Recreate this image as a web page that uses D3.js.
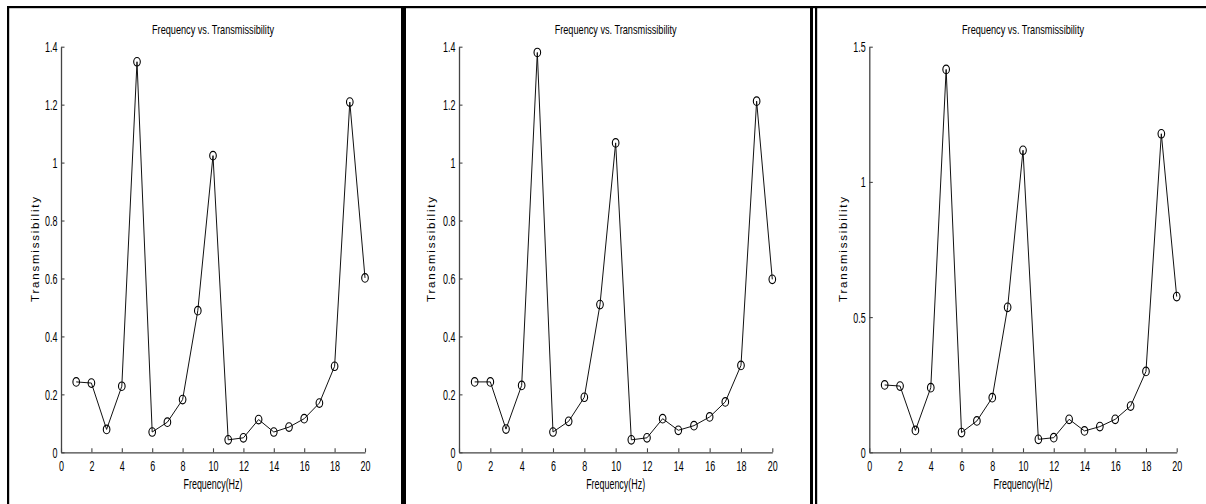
<!DOCTYPE html>
<html>
<head>
<meta charset="utf-8">
<script src="https://cdn.jsdelivr.net/npm/d3@7"></script>
<style>
  html, body { margin: 0; padding: 0; background: #fff; }
  svg { display: block; }
</style>
</head>
<body>
<svg id="chart" width="1206" height="504"></svg>
<script>
// ---- Data ----
const freq = [1,2,3,4,5,6,7,8,9,10,11,12,13,14,15,16,17,18,19,20];
const trans1 = [0.243,0.239,0.079,0.228,1.348,0.070,0.104,0.182,0.489,1.024,0.043,0.050,0.113,0.070,0.087,0.116,0.170,0.297,1.209,0.602];
const trans2 = [0.243,0.243,0.080,0.231,1.380,0.070,0.107,0.190,0.510,1.068,0.043,0.050,0.116,0.076,0.092,0.122,0.174,0.300,1.212,0.597];
const trans3 = [0.249,0.245,0.081,0.239,1.416,0.073,0.116,0.202,0.536,1.117,0.048,0.054,0.122,0.079,0.095,0.122,0.171,0.299,1.178,0.576];
const xTicks = [0,2,4,6,8,10,12,14,16,18,20];
const yTicksA = [0,0.2,0.4,0.6,0.8,1,1.2,1.4];
const yTicksB = [0,0.5,1,1.5];
const titleText = "Frequency vs. Transmissibility";
const xLabelText = "Frequency(Hz)";
const yLabelText = "Transmissibility";

// ---- Layout ----
const panels = [
  { values: trans1, yMax: 1.4, yTicks: yTicksA, left: 61,    right: 365,   ylabX: 38.5 },
  { values: trans2, yMax: 1.4, yTicks: yTicksA, left: 459,   right: 772.3, ylabX: 435 },
  { values: trans3, yMax: 1.5, yTicks: yTicksB, left: 869.3, right: 1176.7, ylabX: 847 }
];
const yBottom = 452.3, yTop = 46.7;
const condensedFont = "'Liberation Sans', Arial, Helvetica, sans-serif";

const svg = d3.select("#chart");

function condense(sel, k) {
  sel.each(function() {
    const len = this.getComputedTextLength();
    d3.select(this).attr("textLength", len * k).attr("lengthAdjust", "spacingAndGlyphs");
  });
}

// ---- Frame lines ----
const frame = svg.append("g").attr("fill", "#000");
frame.append("rect").attr("x", 7).attr("y", 6).attr("width", 1199).attr("height", 2.2);
frame.append("rect").attr("x", 7).attr("y", 6).attr("width", 2.2).attr("height", 498);
frame.append("rect").attr("x", 401).attr("y", 6).attr("width", 5).attr("height", 498);
frame.append("rect").attr("x", 810).attr("y", 6).attr("width", 3).attr("height", 498);
frame.append("rect").attr("x", 815).attr("y", 6).attr("width", 2.2).attr("height", 498);

panels.forEach(p => {
  const g = svg.append("g");
  const x = d3.scaleLinear().domain([0, 20]).range([p.left, p.right]);
  const y = d3.scaleLinear().domain([0, p.yMax]).range([yBottom, yTop]);
  const cx = (p.left + p.right) / 2;

  // X axis (ticks inward / upward)
  const xAxis = g.append("g")
    .attr("transform", `translate(0,${yBottom})`)
    .call(d3.axisBottom(x).tickValues(xTicks).tickSizeInner(-4).tickSizeOuter(0).tickPadding(0).tickFormat(d => String(d)));
  xAxis.select(".domain").attr("stroke", "#444").attr("stroke-width", 1.3);
  xAxis.selectAll(".tick line").attr("stroke", "#444").attr("stroke-width", 1.1);
  xAxis.selectAll(".tick text")
    .attr("y", 19.2).attr("dy", null)
    .attr("font-family", condensedFont).attr("font-size", 14).attr("fill", "#000")
    .call(condense, 0.64);

  // Y axis (ticks inward / rightward)
  const yAxis = g.append("g")
    .attr("transform", `translate(${p.left},0)`)
    .call(d3.axisLeft(y).tickValues(p.yTicks).tickSizeInner(-3.5).tickSizeOuter(0).tickPadding(0).tickFormat(d => String(d)));
  yAxis.select(".domain").attr("stroke", "#444").attr("stroke-width", 1.3);
  yAxis.selectAll(".tick line").attr("stroke", "#444").attr("stroke-width", 1.1);
  yAxis.selectAll(".tick text")
    .attr("x", -3.5).attr("dy", null).attr("y", 5)
    .attr("font-family", condensedFont).attr("font-size", 14).attr("fill", "#000")
    .call(condense, 0.64);

  // Title
  g.append("text")
    .attr("x", cx).attr("y", 33.5)
    .attr("text-anchor", "middle")
    .attr("font-family", condensedFont).attr("font-size", 13)
    .attr("textLength", 122).attr("lengthAdjust", "spacingAndGlyphs")
    .text(titleText);

  // X label
  g.append("text")
    .attr("x", cx).attr("y", 489.3)
    .attr("text-anchor", "middle")
    .attr("font-family", condensedFont).attr("font-size", 14)
    .attr("textLength", 59).attr("lengthAdjust", "spacingAndGlyphs")
    .text(xLabelText);

  // Y label
  g.append("text")
    .attr("transform", `translate(${p.ylabX},249.5) rotate(-90)`)
    .attr("text-anchor", "middle")
    .attr("font-family", "'Liberation Sans', Arial, sans-serif").attr("font-size", 11.5)
    .attr("textLength", 105).attr("lengthAdjust", "spacing")
    .text(yLabelText);

  // Data line
  const pts = freq.map((f, i) => [f, p.values[i]]);
  g.append("path")
    .datum(pts)
    .attr("fill", "none").attr("stroke", "#111").attr("stroke-width", 1)
    .attr("d", d3.line().x(d => x(d[0])).y(d => y(d[1])));

  // Markers
  g.selectAll("ellipse.m").data(pts).enter().append("ellipse")
    .attr("class", "m")
    .attr("cx", d => x(d[0])).attr("cy", d => y(d[1]))
    .attr("rx", 3.3).attr("ry", 4.3)
    .attr("fill", "none").attr("stroke", "#000").attr("stroke-width", 1.1);
});
</script>
</body>
</html>
